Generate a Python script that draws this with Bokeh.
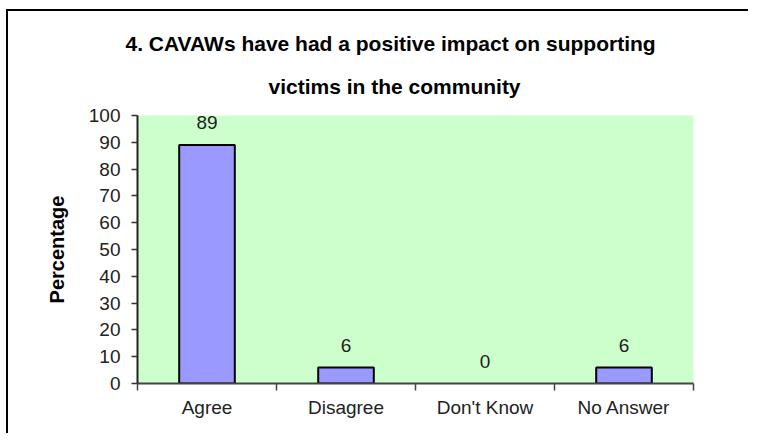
from bokeh.plotting import figure
from bokeh.models import Range1d, FixedTicker, ColumnDataSource, Title
from bokeh.embed import file_html
from bokeh.resources import INLINE

categories = ["Agree", "Disagree", "Don't Know", "No Answer"]
values = [89, 6, 0, 6]
value_labels = ["89", "6", "0", "6"]
y_ticks = [0, 10, 20, 30, 40, 50, 60, 70, 80, 90, 100]
title_lines = ["4. CAVAWs have had a positive impact on supporting", "victims in the community"]

FONT = "Liberation Sans"
TXT = "#222222"

xs = [i + 0.5 for i in range(len(categories))]
src = ColumnDataSource(dict(x=xs, top=values, lab=value_labels, cat=categories,
                            lc=["black" if v > 0 else None for v in values]))

p = figure(frame_width=556, frame_height=268, output_backend="svg", toolbar_location=None,
           x_range=Range1d(0, len(categories)), y_range=Range1d(0, 100),
           min_border_left=129, min_border_top=104, min_border_right=55, min_border_bottom=50)
p.styles = {"border-left": "2px solid black", "border-top": "2px solid black",
            "margin-left": "6px", "margin-top": "9px"}

p.background_fill_color = "#CCFFCC"
p.border_fill_color = "white"
p.outline_line_color = None
p.grid.visible = False

p.vbar(x="x", top="top", bottom=0, width=0.4, source=src,
       fill_color="#9999FF", line_color="lc", line_width=2)
p.text(x="x", y="top", text="lab", source=src, text_align="center", text_baseline="middle",
       y_offset=-22, text_font_size="19px", text_color=TXT, text_font={"value": FONT})

# axes
xa = p.xaxis[0]
xa.ticker = FixedTicker(ticks=xs, minor_ticks=list(range(len(categories) + 1)))
xa.major_label_overrides = {x: c for x, c in zip(xs, categories)}
xa.major_tick_out = 0
xa.major_tick_in = 0
xa.minor_tick_out = 7
xa.minor_tick_in = 0
xa.minor_tick_line_color = "#444444"
xa.minor_tick_line_width = 1.5
xa.axis_line_color = "#444444"
xa.axis_line_width = 2
xa.major_label_text_font = FONT
xa.major_label_text_font_size = "19px"
xa.major_label_text_color = TXT
xa.major_label_standoff = 6

ya = p.yaxis[0]
ya.ticker = FixedTicker(ticks=y_ticks)
ya.minor_tick_line_color = None
ya.major_tick_out = 6
ya.major_tick_in = 0
ya.major_tick_line_color = "#333333"
ya.major_tick_line_width = 1.5
ya.axis_line_color = "#222222"
ya.axis_line_width = 2
ya.major_label_text_font = FONT
ya.major_label_text_font_size = "19px"
ya.major_label_text_color = TXT
ya.major_label_standoff = 11
ya.axis_label = "Percentage"
ya.axis_label_text_font = FONT
ya.axis_label_text_font_size = "20px"
ya.axis_label_text_font_style = "bold"
ya.axis_label_text_color = "black"
ya.axis_label_standoff = 18

# title lines: first added is nearest the frame
title_offsets = [-12, 131]
title_standoffs = [0, 36]
for i in reversed(range(len(title_lines))):
    p.add_layout(Title(text=title_lines[i], align="left", text_font=FONT, text_font_size="21px",
                       text_font_style="bold", text_color="black", offset=title_offsets[i],
                       standoff=title_standoffs[i]), "above")

open("out.html", "w").write(file_html(p, INLINE))
